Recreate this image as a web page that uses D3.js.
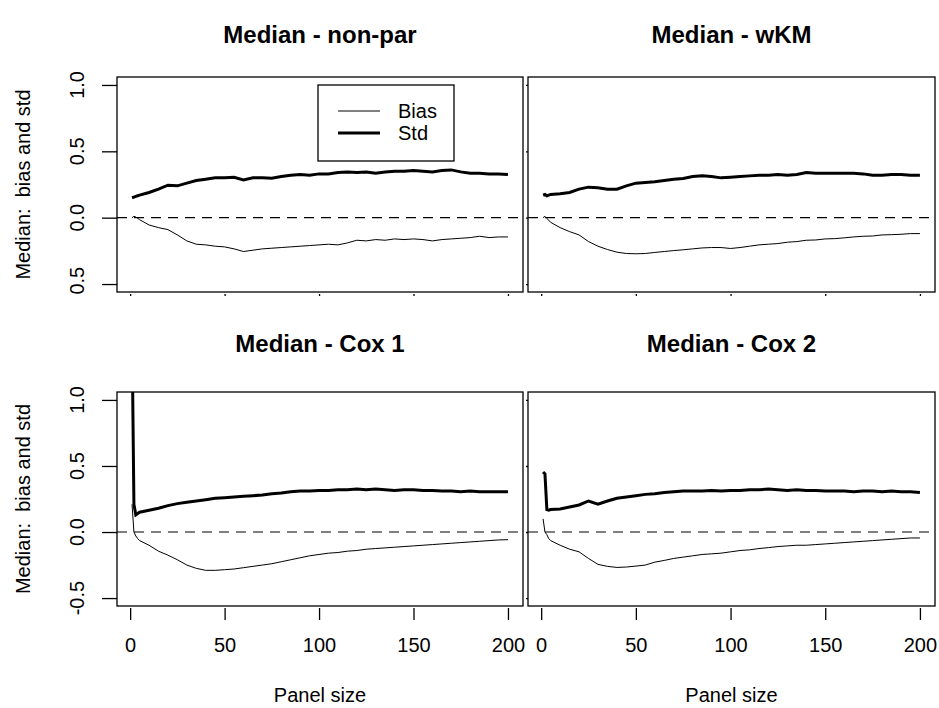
<!DOCTYPE html>
<html>
<head>
<meta charset="utf-8">
<script src="https://cdn.jsdelivr.net/npm/d3@7"></script>
<style>
  body { margin: 0; background: #fff; }
  text { font-family: "Liberation Sans", Arial, sans-serif; fill: #000; white-space: pre; }
</style>
</head>
<body>
<div id="chart"></div>
<script>
// panel sizes (x values)
const sizes = [1, 2, 3, 4, 5, 10, 15, 20, 25, 30, 35, 40, 45, 50, 55, 60, 65, 70, 75, 80,
  85, 90, 95, 100, 105, 110, 115, 120, 125, 130, 135, 140, 145, 150, 155, 160, 165, 170,
  175, 180, 185, 190, 195, 200];

const titles = ["Median - non-par", "Median - wKM", "Median - Cox 1", "Median - Cox 2"];

const stdNonpar = [0.15, 0.155, 0.16, 0.165, 0.17, 0.19, 0.215, 0.245, 0.24, 0.26, 0.28, 0.29, 0.3, 0.3,
  0.305, 0.285, 0.3, 0.3, 0.298, 0.31, 0.32, 0.325, 0.32, 0.33, 0.33, 0.34, 0.345, 0.34, 0.345, 0.335,
  0.345, 0.35, 0.35, 0.355, 0.35, 0.345, 0.355, 0.36, 0.345, 0.335, 0.335, 0.33, 0.33, 0.325];
const biasNonpar = [0.0, 0.01, 0.005, -0.005, -0.015, -0.055, -0.075, -0.09, -0.13, -0.175, -0.2, -0.205,
  -0.215, -0.22, -0.235, -0.255, -0.245, -0.235, -0.23, -0.225, -0.22, -0.215, -0.21, -0.205, -0.2, -0.205,
  -0.19, -0.17, -0.175, -0.165, -0.17, -0.16, -0.165, -0.16, -0.165, -0.175, -0.165, -0.16, -0.155, -0.15,
  -0.14, -0.15, -0.145, -0.145];

const stdWkm = [0.17, 0.175, 0.165, 0.17, 0.175, 0.18, 0.19, 0.215, 0.23, 0.225, 0.215, 0.215, 0.24, 0.26,
  0.265, 0.27, 0.28, 0.29, 0.295, 0.31, 0.315, 0.31, 0.3, 0.305, 0.31, 0.315, 0.32, 0.32, 0.325, 0.32,
  0.325, 0.34, 0.335, 0.335, 0.335, 0.335, 0.335, 0.33, 0.32, 0.32, 0.325, 0.325, 0.32, 0.32];
const biasWkm = [0.0, 0.01, -0.005, -0.02, -0.035, -0.075, -0.105, -0.13, -0.18, -0.215, -0.24, -0.26,
  -0.27, -0.272, -0.27, -0.262, -0.255, -0.248, -0.242, -0.235, -0.228, -0.225, -0.225, -0.232, -0.225,
  -0.215, -0.205, -0.2, -0.195, -0.185, -0.18, -0.17, -0.168, -0.16, -0.158, -0.152, -0.145, -0.14,
  -0.138, -0.13, -0.128, -0.125, -0.12, -0.12];

const stdCox1 = [1.5, 0.21, 0.13, 0.14, 0.15, 0.165, 0.18, 0.2, 0.215, 0.225, 0.235, 0.245, 0.255, 0.26,
  0.265, 0.27, 0.275, 0.28, 0.29, 0.295, 0.305, 0.31, 0.31, 0.315, 0.315, 0.32, 0.32, 0.325, 0.32, 0.325,
  0.32, 0.315, 0.32, 0.32, 0.315, 0.315, 0.31, 0.31, 0.305, 0.31, 0.305, 0.305, 0.305, 0.305];
const biasCox1 = [0.21, 0.0, -0.03, -0.05, -0.065, -0.1, -0.145, -0.175, -0.21, -0.25, -0.275, -0.29,
  -0.29, -0.285, -0.28, -0.27, -0.26, -0.25, -0.24, -0.225, -0.21, -0.195, -0.18, -0.17, -0.16, -0.155,
  -0.145, -0.14, -0.13, -0.125, -0.12, -0.115, -0.11, -0.105, -0.1, -0.095, -0.09, -0.085, -0.08, -0.075,
  -0.07, -0.065, -0.06, -0.058];

const stdCox2 = [0.455, 0.44, 0.17, 0.165, 0.17, 0.175, 0.19, 0.205, 0.235, 0.21, 0.235, 0.255, 0.265,
  0.275, 0.285, 0.29, 0.3, 0.305, 0.31, 0.31, 0.31, 0.315, 0.31, 0.315, 0.315, 0.32, 0.32, 0.325, 0.32,
  0.315, 0.32, 0.315, 0.315, 0.31, 0.31, 0.31, 0.305, 0.31, 0.31, 0.305, 0.31, 0.305, 0.305, 0.3];
const biasCox2 = [0.1, 0.0, -0.02, -0.05, -0.065, -0.1, -0.13, -0.15, -0.2, -0.245, -0.26, -0.268,
  -0.265, -0.258, -0.25, -0.228, -0.215, -0.2, -0.19, -0.18, -0.17, -0.165, -0.16, -0.15, -0.14, -0.135,
  -0.125, -0.118, -0.11, -0.105, -0.1, -0.1, -0.095, -0.09, -0.085, -0.08, -0.075, -0.07, -0.065, -0.06,
  -0.055, -0.05, -0.045, -0.045];

const xTicks = [0, 50, 100, 150, 200];
const yTicks = [-0.5, 0, 0.5, 1];
const yTickLabels = ["-0.5", "0.0", "0.5", "1.0"];
const legendLabels = ["Bias", "Std"];
const yTitle = "Median:  bias and std";
const xTitle = "Panel size";

const width = 939, height = 708;
const svg = d3.select("#chart").append("svg")
  .attr("width", width).attr("height", height);

const defs = svg.append("defs");

// plot boxes: [left, right, top, bottom]
const boxes = [
  [117, 523, 77, 292], [528, 935, 77, 292],
  [117, 523, 392, 606], [528, 935, 392, 606]
];
const series = [
  [biasNonpar, stdNonpar], [biasWkm, stdWkm],
  [biasCox1, stdCox1], [biasCox2, stdCox2]
];

boxes.forEach((b, i) => {
  const [l, r, t, bt] = b;
  const col = i % 2, row = Math.floor(i / 2);
  const x = d3.scaleLinear().domain([1 - 199 * 0.04, 200 + 199 * 0.04]).range([l, r]);
  const y = d3.scaleLinear().domain([-0.5 - 0.06, 1 + 0.06]).range([bt, t]);

  const g = svg.append("g");
  defs.append("clipPath").attr("id", "clip" + i)
    .append("rect").attr("x", l).attr("y", t).attr("width", r - l).attr("height", bt - t);
  // figure region clip (cuts the minus sign on the top row like the original)
  defs.append("clipPath").attr("id", "fig" + i)
    .append("rect").attr("x", 0).attr("y", row === 0 ? 0 : 300)
    .attr("width", width).attr("height", row === 0 ? 294 : 408);

  // title
  g.append("text")
    .attr("x", (l + r) / 2).attr("y", row === 0 ? 43 : 352)
    .attr("text-anchor", "middle")
    .style("font-size", "24px").style("font-weight", "bold")
    .text(titles[i]);

  const plot = g.append("g").attr("clip-path", "url(#clip" + i + ")");

  plot.append("line")
    .attr("x1", l).attr("x2", r).attr("y1", y(0)).attr("y2", y(0))
    .attr("stroke", "#000").attr("stroke-width", 1.2)
    .attr("stroke-dasharray", "10,7");

  const line = d3.line().x((d, k) => x(sizes[k])).y(d => y(d));
  plot.append("path").datum(series[i][0])
    .attr("d", line).attr("fill", "none")
    .attr("stroke", "#000").attr("stroke-width", 1);
  plot.append("path").datum(series[i][1])
    .attr("d", line).attr("fill", "none")
    .attr("stroke", "#000").attr("stroke-width", 3);

  // box
  g.append("rect")
    .attr("x", l).attr("y", t).attr("width", r - l).attr("height", bt - t)
    .attr("fill", "none").attr("stroke", "#000").attr("stroke-width", 1.3);

  // x axis
  const xAxis = g.append("g")
    .attr("transform", `translate(0,${bt + 2})`)
    .call(d3.axisBottom(x).tickValues(xTicks)
      .tickSize(row === 1 ? 12 : 2).tickPadding(18)
      .tickFormat(row === 1 ? d3.format("d") : () => ""));
  xAxis.select(".domain").remove();
  xAxis.selectAll("line").attr("stroke-width", 1.3);
  xAxis.selectAll("text").style("font-size", "20px").attr("font-family", null);

  // y axis
  const yAxis = g.append("g")
    .attr("transform", `translate(${l},0)`)
    .call(d3.axisLeft(y).tickValues(yTicks)
      .tickSize(col === 0 ? 15 : 2).tickFormat(() => ""));
  yAxis.select(".domain").remove();
  yAxis.selectAll("line").attr("stroke-width", 1.3);

  if (col === 0) {
    const lab = g.append("g").attr("clip-path", "url(#fig" + i + ")");
    lab.selectAll("text.ytick").data(yTicks).enter().append("text")
      .attr("class", "ytick")
      .attr("transform", d => `translate(84,${y(d)}) rotate(-90)`)
      .attr("text-anchor", "middle")
      .style("font-size", "20px")
      .text((d, k) => yTickLabels[k]);

    g.append("text")
      .attr("transform", `translate(30,${(t + bt) / 2}) rotate(-90)`)
      .attr("text-anchor", "middle")
      .style("font-size", "20px")
      .text(yTitle);
  }

  if (row === 1) {
    g.append("text")
      .attr("x", (l + r) / 2).attr("y", 702)
      .attr("text-anchor", "middle")
      .style("font-size", "20px")
      .text(xTitle);
  }

  // legend in the first panel
  if (i === 0) {
    const lg = g.append("g");
    lg.append("rect")
      .attr("x", 318).attr("y", 85).attr("width", 136).attr("height", 76)
      .attr("fill", "#fff").attr("stroke", "#000").attr("stroke-width", 1.3);
    legendLabels.forEach((name, k) => {
      const ly = 111 + k * 22;
      lg.append("line")
        .attr("x1", 338).attr("x2", 380).attr("y1", ly).attr("y2", ly)
        .attr("stroke", "#000").attr("stroke-width", k === 0 ? 1 : 3);
      lg.append("text")
        .attr("x", 398).attr("y", ly).attr("dy", "0.35em")
        .style("font-size", "20px")
        .text(name);
    });
  }
});
</script>
</body>
</html>
